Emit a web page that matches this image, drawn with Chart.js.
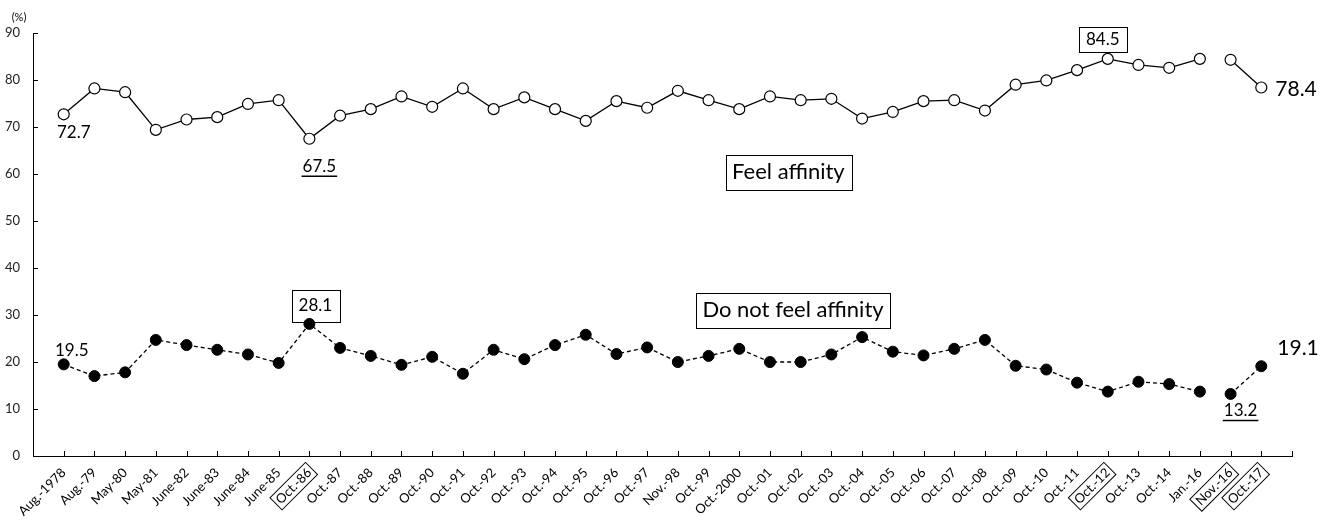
<!DOCTYPE html>
<html lang="en">
<head>
<meta charset="UTF-8">
<title>Feel affinity / Do not feel affinity</title>
<script src="https://cdn.jsdelivr.net/npm/chart.js"></script>
<style>
  html, body { margin: 0; padding: 0; background: #fff; }
  #wrap { width: 1334px; height: 522px; position: relative; }
</style>
</head>
<body>
<div id="wrap"><canvas id="chart"></canvas></div>
<script>
const categories = [
  'Aug.-1978', 'Aug.-79', 'May-80', 'May-81', 'June-82', 'June-83', 'June-84', 'June-85',
  'Oct.-86', 'Oct.-87', 'Oct.-88', 'Oct.-89', 'Oct.-90', 'Oct.-91', 'Oct.-92', 'Oct.-93',
  'Oct.-94', 'Oct.-95', 'Oct.-96', 'Oct.-97', 'Nov.-98', 'Oct.-99', 'Oct.-2000', 'Oct.-01',
  'Oct.-02', 'Oct.-03', 'Oct.-04', 'Oct.-05', 'Oct.-06', 'Oct.-07', 'Oct.-08', 'Oct.-09',
  'Oct.-10', 'Oct.-11', 'Oct.-12', 'Oct.-13', 'Oct.-14', 'Jan.-16', 'Nov.-16', 'Oct.-17'
];
const feelAffinity = [
  72.7, 78.2, 77.4, 69.4, 71.6, 72.1, 74.9, 75.7,
  67.5, 72.4, 73.8, 76.5, 74.3, 78.2, 73.8, 76.3,
  73.8, 71.3, 75.5, 74.1, 77.7, 75.7, 73.8, 76.5,
  75.7, 76.0, 71.8, 73.2, 75.5, 75.7, 73.5, 79.0,
  79.9, 82.1, 84.5, 83.2, 82.6, 84.5, 84.3, 78.4
];
const noAffinity = [
  19.5, 17.0, 17.8, 24.7, 23.6, 22.6, 21.6, 19.8,
  28.1, 23.0, 21.3, 19.4, 21.1, 17.5, 22.6, 20.6,
  23.6, 25.8, 21.7, 23.1, 20.0, 21.3, 22.8, 20.0,
  20.0, 21.6, 25.3, 22.2, 21.4, 22.8, 24.7, 19.2,
  18.4, 15.6, 13.7, 15.8, 15.3, 13.7, 13.2, 19.1
];
const yTicks = [0, 10, 20, 30, 40, 50, 60, 70, 80, 90];
const boxedCategories = ['Oct.-86', 'Oct.-12', 'Nov.-16', 'Oct.-17'];
const gapAfter = categories.indexOf('Jan.-16'); // line broken between Jan.-16 and Nov.-16

const FONT = 'Lato, "Open Sans", sans-serif';

// value labels next to points: [series, index, dx, dy, size, style, align, boxHeight]
const pointNotes = [
  [feelAffinity, 0, 10, 18, 17, '', 'center'],
  [feelAffinity, 8, 10, 28, 17, 'underline', 'center'],
  [feelAffinity, 34, -5, -19, 17, 'box', 'center', 25],
  [feelAffinity, 39, 14, 2, 21, '', 'left'],
  [noAffinity, 0, 8, -14, 17, '', 'center'],
  [noAffinity, 8, 6, -18, 17, 'box', 'center', 32],
  [noAffinity, 38, 10, 17, 17, 'underline', 'center'],
  [noAffinity, 39, 16, -18, 21, '', 'left']
];
// series names placed at data coords
const seriesNotes = [
  ['Feel affinity', 23.6, 60.4],
  ['Do not feel affinity', 23.75, 31.1]
];

function toPoints(arr) { return arr.map((v, i) => ({ x: i, y: v })); }

const annotate = {
  id: 'annotate',
  afterDraw(chart) {
    const ctx = chart.ctx, xs = chart.scales.x, ys = chart.scales.y;
    ctx.save();
    ctx.strokeStyle = '#000';
    ctx.lineWidth = 1;

    // inward tick marks
    ctx.beginPath();
    for (let i = 0; i <= categories.length; i++) {
      const px = Math.round(xs.getPixelForValue(i)) + 0.5;
      ctx.moveTo(px, ys.bottom);
      ctx.lineTo(px, ys.bottom - 5);
    }
    yTicks.forEach(t => {
      const py = Math.round(ys.getPixelForValue(t)) + 0.5;
      ctx.moveTo(xs.left, py);
      ctx.lineTo(xs.left + 5, py);
    });
    ctx.stroke();

    // boxes round some category labels
    xs.getLabelItems().forEach(item => {
      if (!boxedCategories.includes(item.label)) return;
      const o = item.options;
      ctx.save();
      ctx.translate(o.translation[0], o.translation[1]);
      ctx.rotate(o.rotation);
      ctx.font = item.font.string;
      const w = ctx.measureText(item.label).width;
      const h = item.font.size;
      let x0 = o.textAlign === 'right' ? -w : (o.textAlign === 'center' ? -w / 2 : 0);
      let y0 = item.textOffset - h / 2;
      if (o.textBaseline === 'top') y0 = item.textOffset;
      ctx.strokeRect(x0 - 3, y0 - 2, w + 6, h + 4);
      ctx.restore();
    });

    // value labels
    ctx.fillStyle = '#000';
    ctx.textBaseline = 'middle';
    pointNotes.forEach(([arr, i, dx, dy, size, style, align, bh]) => {
      const text = arr[i].toFixed(1);
      const x = xs.getPixelForValue(i) + dx;
      const y = ys.getPixelForValue(arr[i]) + dy;
      ctx.font = size + 'px ' + FONT;
      ctx.textAlign = align;
      ctx.fillText(text, x, y);
      const w = ctx.measureText(text).width;
      const left = align === 'left' ? x : x - w / 2;
      if (style === 'box') {
        ctx.strokeRect(Math.round(left - 7) + 0.5, Math.round(y - bh / 2) + 0.5, Math.round(w + 14), bh);
      } else if (style === 'underline') {
        ctx.lineWidth = 1.5;
        ctx.beginPath();
        ctx.moveTo(left - 1, y + size / 2 + 1);
        ctx.lineTo(left + w + 1, y + size / 2 + 1);
        ctx.stroke();
        ctx.lineWidth = 1;
      }
    });

    seriesNotes.forEach(([text, vx, vy]) => {
      const x = xs.getPixelForValue(vx), y = ys.getPixelForValue(vy);
      ctx.font = '22px ' + FONT;
      ctx.textAlign = 'center';
      ctx.fillText(text, x, y);
      const w = ctx.measureText(text).width;
      ctx.strokeRect(Math.round(x - w / 2 - 6) + 0.5, Math.round(y - 17) + 0.5, Math.round(w + 13), 35);
    });

    // unit label
    ctx.font = '11px ' + FONT;
    ctx.textAlign = 'center';
    ctx.fillText('(%)', xs.left - 14, ys.top - 16);
    ctx.restore();
  }
};

const lineSegment = color => ({
  borderColor: c => c.p0DataIndex === gapAfter ? 'rgba(0,0,0,0)' : color
});

new Chart(document.getElementById('chart'), {
  type: 'line',
  data: {
    datasets: [
      {
        label: 'Feel affinity',
        data: toPoints(feelAffinity),
        borderColor: '#000',
        borderWidth: 1.3,
        pointBackgroundColor: '#fff',
        pointBorderColor: '#000',
        pointBorderWidth: 1.2,
        pointRadius: 5.5,
        segment: lineSegment('#000')
      },
      {
        label: 'Do not feel affinity',
        data: toPoints(noAffinity),
        borderColor: '#000',
        borderWidth: 1.3,
        borderDash: [4, 3],
        pointBackgroundColor: '#000',
        pointBorderColor: '#000',
        pointBorderWidth: 1,
        pointRadius: 5.5,
        segment: lineSegment('#000')
      }
    ]
  },
  options: {
    responsive: true,
    maintainAspectRatio: false,
    animation: false,
    layout: { padding: { top: 33, right: 42, left: 0, bottom: 0 } },
    plugins: {
      legend: { display: false },
      tooltip: { enabled: false }
    },
    scales: {
      x: {
        type: 'linear',
        min: -1,
        max: categories.length,
        afterFit: s => { s.height = 66; },
        grid: { display: true, drawOnChartArea: false, drawTicks: false },
        border: { display: true, color: '#000', width: 1 },
        ticks: {
          stepSize: 1,
          autoSkip: false,
          maxTicksLimit: 100,
          minRotation: 45,
          maxRotation: 45,
          padding: 9,
          color: '#000',
          font: { family: FONT, size: 13 },
          callback: v => categories[v] ?? ''
        }
      },
      y: {
        min: 0,
        max: 90,
        afterFit: s => { s.width = 33; },
        grid: { display: true, drawOnChartArea: false, drawTicks: false },
        border: { display: true, color: '#000', width: 1 },
        afterBuildTicks: s => { s.ticks = yTicks.map(v => ({ value: v })); },
        ticks: {
          padding: 13,
          color: '#222',
          font: { family: FONT, size: 13 }
        }
      }
    }
  },
  plugins: [annotate]
});
</script>
</body>
</html>
